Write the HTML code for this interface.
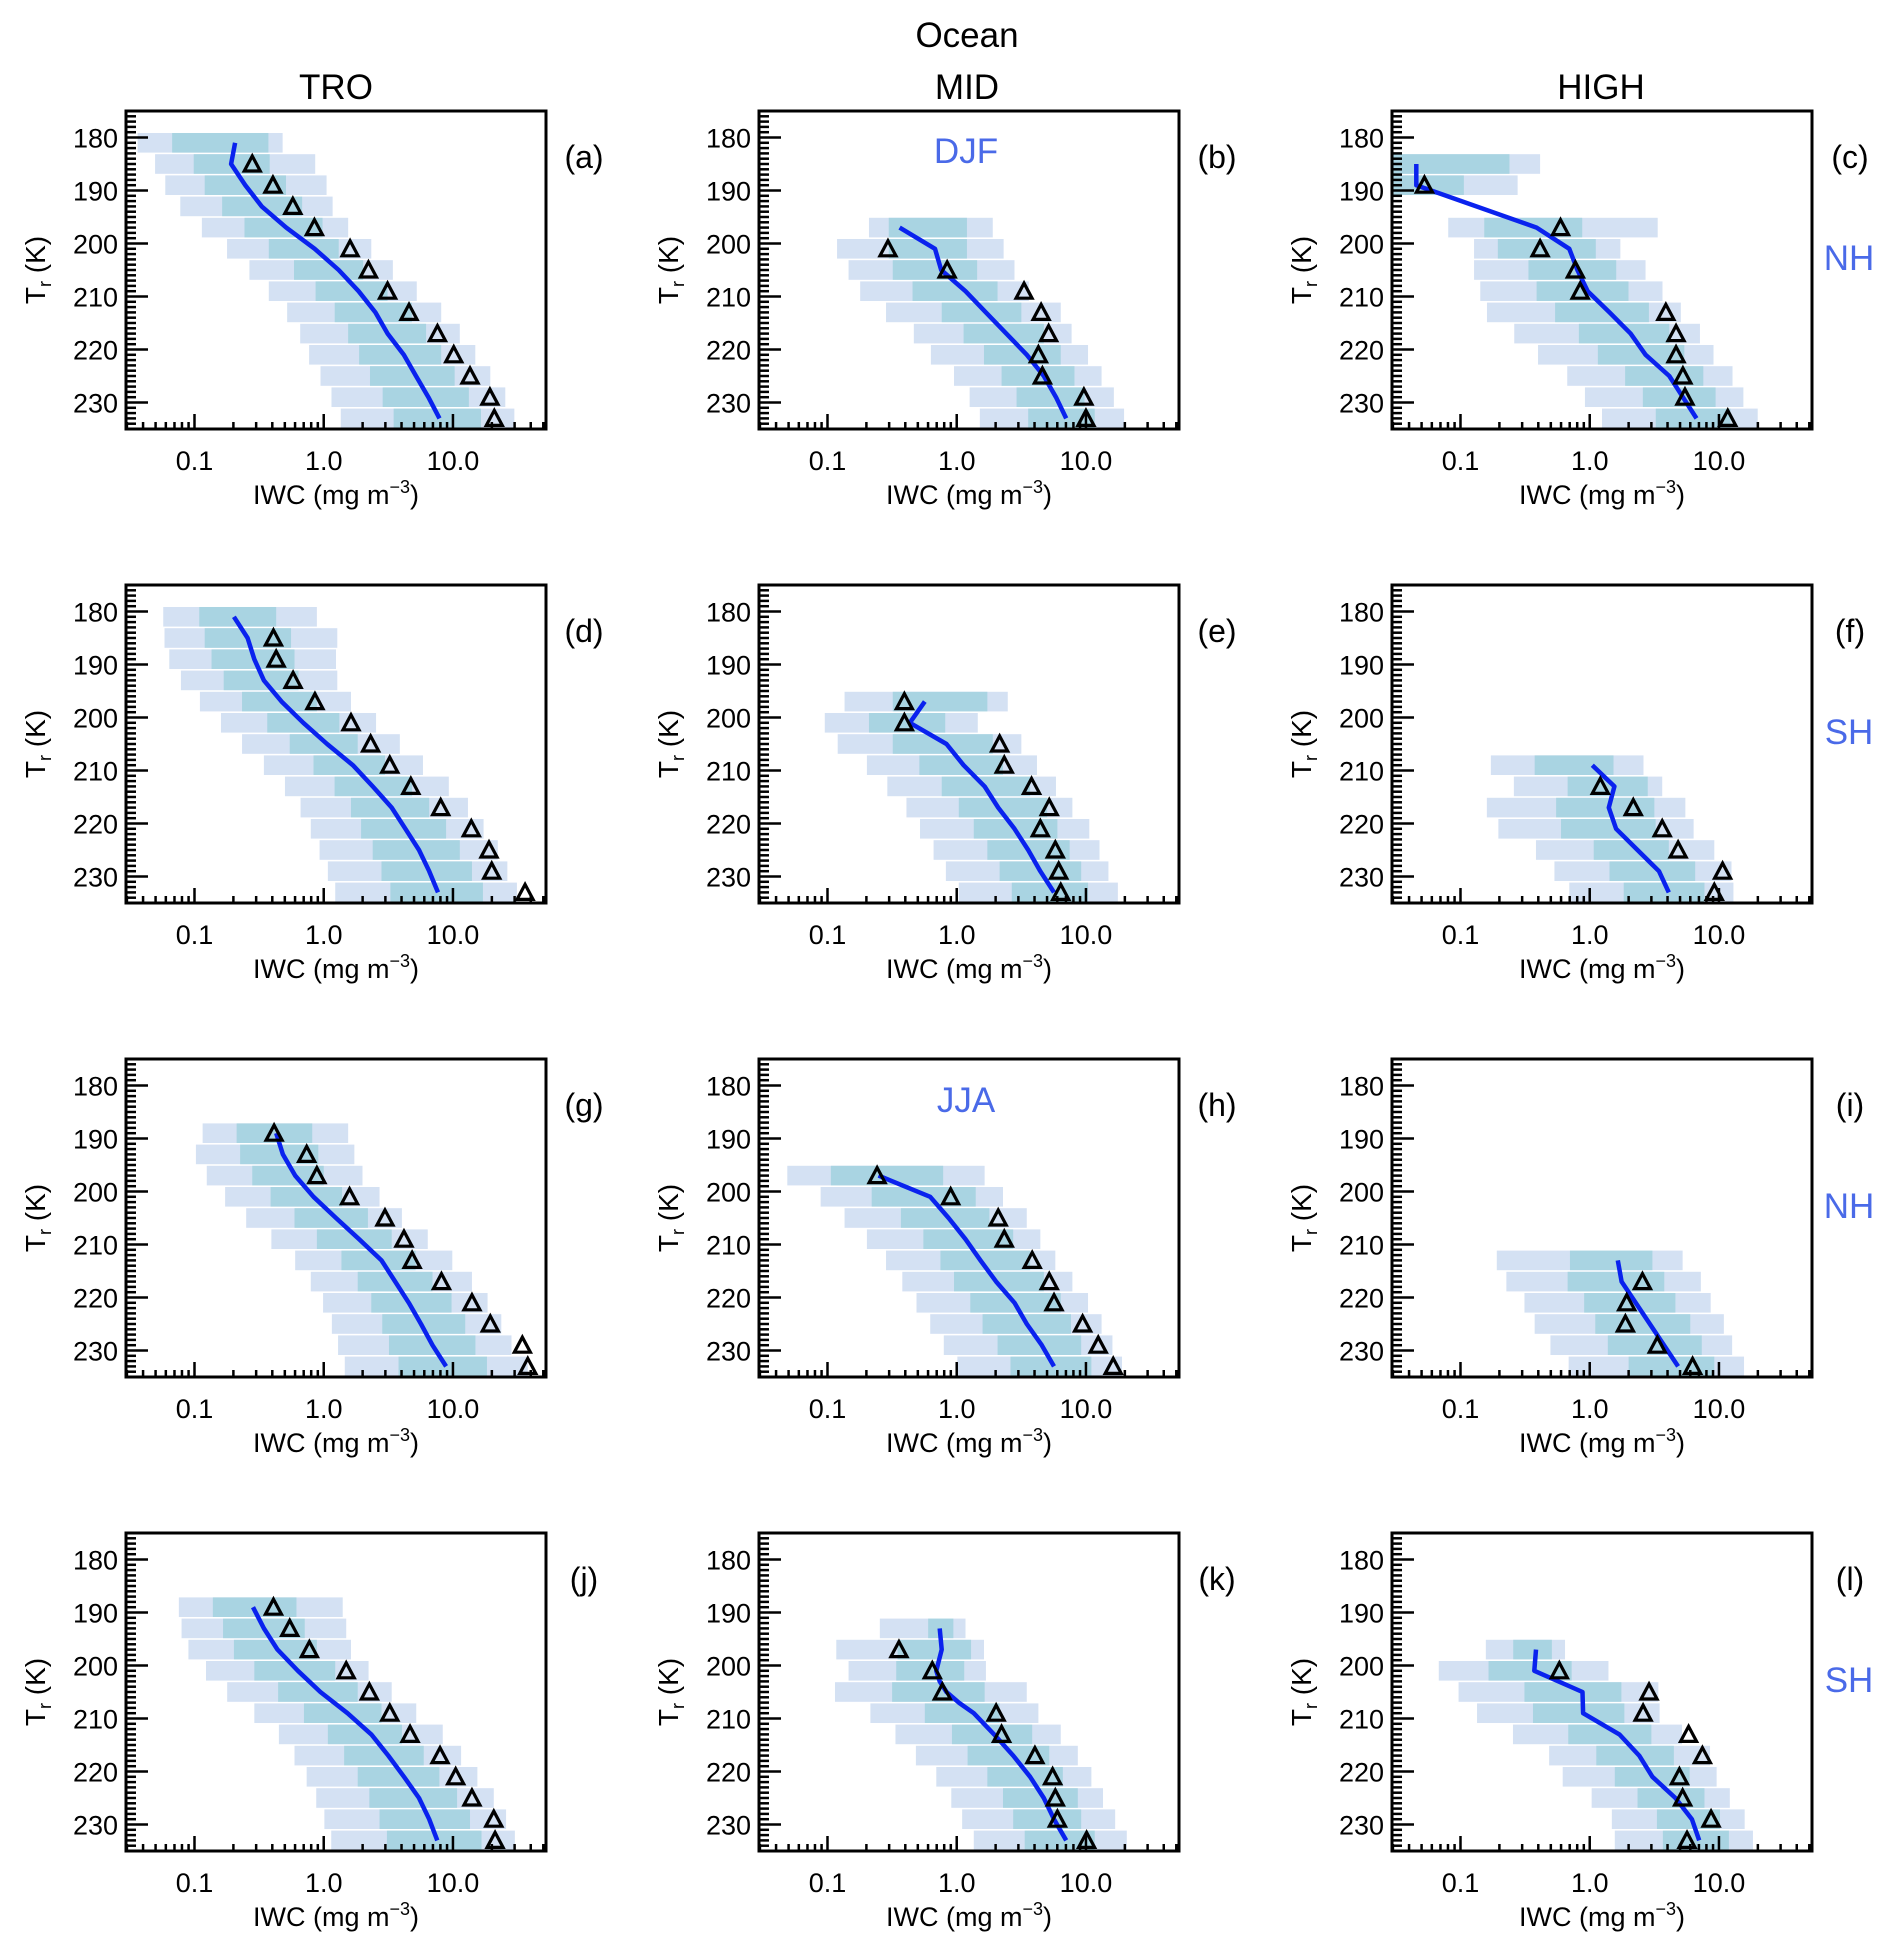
<!DOCTYPE html>
<html><head><meta charset="utf-8"><title>Ocean IWC profiles</title>
<style>
html,body{margin:0;padding:0;background:#fff;}
svg{display:block;font-family:"Liberation Sans",sans-serif;}
</style></head>
<body>
<svg id="fig" xmlns="http://www.w3.org/2000/svg" width="1892" height="1952" viewBox="0 0 1892 1952">
<rect x="0" y="0" width="1892" height="1952" fill="#fff"/>
<text x="967" y="47" font-size="35" text-anchor="middle" fill="#000">Ocean</text>
<text x="336" y="99" font-size="35" text-anchor="middle" fill="#000">TRO</text>
<text x="967" y="99" font-size="35" text-anchor="middle" fill="#000">MID</text>
<text x="1601" y="99" font-size="35" text-anchor="middle" fill="#000">HIGH</text>
<text x="966" y="163" font-size="35" text-anchor="middle" fill="#4a6ae8">DJF</text>
<text x="966" y="1112" font-size="35" text-anchor="middle" fill="#4a6ae8">JJA</text>
<text x="1849" y="270" font-size="35" text-anchor="middle" fill="#4a6ae8">NH</text>
<text x="1849" y="744" font-size="35" text-anchor="middle" fill="#4a6ae8">SH</text>
<text x="1849" y="1218" font-size="35" text-anchor="middle" fill="#4a6ae8">NH</text>
<text x="1849" y="1692" font-size="35" text-anchor="middle" fill="#4a6ae8">SH</text>
</svg>
<script>
// ---- data (IWC values stored as log10(mg m^-3)) ----
const panelLetters = ["a","b","c","d","e","f","g","h","i","j","k","l"];
const binTemps = [
 [181,185,189,193,197,201,205,209,213,217,221,225,229,233],
 [197,201,205,209,213,217,221,225,229,233],
 [185,189,197,201,205,209,213,217,221,225,229,233],
 [181,185,189,193,197,201,205,209,213,217,221,225,229,233],
 [197,201,205,209,213,217,221,225,229,233],
 [209,213,217,221,225,229,233],
 [189,193,197,201,205,209,213,217,221,225,229,233],
 [197,201,205,209,213,217,221,225,229,233],
 [213,217,221,225,229,233],
 [189,193,197,201,205,209,213,217,221,225,229,233],
 [193,197,201,205,209,213,217,221,225,229,233],
 [197,201,205,209,213,217,221,225,229,233]
];
const logP5 = [
 [-1.44,-1.305,-1.226,-1.11,-0.943,-0.748,-0.575,-0.425,-0.283,-0.182,-0.113,-0.025,0.06,0.132],
 [-0.679,-0.926,-0.837,-0.747,-0.547,-0.332,-0.2,-0.021,0.1,0.179],
 [-1.6,-1.6,-1.095,-0.895,-0.895,-0.847,-0.795,-0.584,-0.4,-0.174,-0.037,0.095],
 [-1.242,-1.232,-1.195,-1.105,-0.958,-0.795,-0.632,-0.463,-0.3,-0.179,-0.1,-0.032,0.032,0.089],
 [-0.868,-1.021,-0.921,-0.695,-0.537,-0.389,-0.284,-0.179,-0.084,0.016],
 [-0.765,-0.587,-0.796,-0.707,-0.416,-0.273,-0.158],
 [-0.937,-0.989,-0.905,-0.763,-0.6,-0.405,-0.221,-0.1,-0.005,0.063,0.111,0.163],
 [-1.311,-1.053,-0.868,-0.695,-0.547,-0.421,-0.311,-0.205,-0.1,0.005],
 [-0.719,-0.645,-0.505,-0.426,-0.304,-0.163],
 [-1.121,-1.1,-1.047,-0.911,-0.747,-0.537,-0.347,-0.226,-0.132,-0.058,0.005,0.058],
 [-0.595,-0.932,-0.837,-0.942,-0.668,-0.474,-0.316,-0.158,-0.042,0.042,0.132],
 [-0.804,-1.168,-1.015,-0.872,-0.594,-0.314,-0.209,0.015,0.171,0.194]
];
const logP25 = [
 [-1.173,-1.006,-0.921,-0.786,-0.613,-0.425,-0.23,-0.063,0.085,0.189,0.274,0.358,0.456,0.541],
 [-0.526,-0.526,-0.495,-0.342,-0.116,0.053,0.211,0.347,0.463,0.553],
 [-1.6,-1.6,-0.816,-0.711,-0.474,-0.411,-0.268,-0.084,0.063,0.274,0.411,0.511],
 [-0.963,-0.921,-0.868,-0.774,-0.632,-0.437,-0.263,-0.079,0.084,0.211,0.289,0.379,0.447,0.516],
 [-0.495,-0.679,-0.495,-0.289,-0.116,0.016,0.132,0.237,0.332,0.426],
 [-0.426,-0.171,-0.26,-0.222,0.031,0.153,0.263],
 [-0.674,-0.647,-0.553,-0.411,-0.226,-0.053,0.137,0.263,0.368,0.453,0.505,0.579],
 [-0.974,-0.658,-0.432,-0.258,-0.126,-0.021,0.105,0.2,0.316,0.416],
 [-0.153,-0.171,-0.043,0.043,0.14,0.301],
 [-0.858,-0.779,-0.695,-0.537,-0.353,-0.153,0.032,0.158,0.263,0.353,0.432,0.489],
 [-0.221,-0.458,-0.468,-0.5,-0.247,-0.037,0.084,0.237,0.358,0.437,0.526],
 [-0.592,-0.783,-0.505,-0.439,-0.166,0.051,0.194,0.37,0.52,0.566]
];
const logP75 = [
 [-0.428,-0.418,-0.292,-0.167,-0.009,0.116,0.305,0.494,0.682,0.792,0.909,1.013,1.123,1.217],
 [0.079,0.079,0.158,0.316,0.5,0.674,0.805,0.911,0.989,1.068],
 [-0.621,-0.974,-0.058,0.047,0.205,0.3,0.458,0.616,0.732,0.879,0.974,1.089],
 [-0.368,-0.253,-0.226,-0.195,-0.053,0.121,0.263,0.474,0.684,0.816,0.947,1.053,1.147,1.232],
 [0.237,-0.089,0.279,0.358,0.568,0.7,0.779,0.874,0.963,1.016],
 [0.184,0.449,0.5,0.51,0.612,0.816,0.888],
 [-0.089,-0.042,0.0,0.142,0.342,0.526,0.711,0.842,0.989,1.095,1.174,1.263],
 [-0.105,0.147,0.253,0.437,0.568,0.674,0.805,0.884,0.963,1.042],
 [0.485,0.577,0.663,0.778,0.867,0.964],
 [-0.211,-0.147,-0.053,0.089,0.263,0.447,0.605,0.774,0.895,1.032,1.132,1.221],
 [-0.026,0.111,0.058,0.216,0.332,0.584,0.716,0.821,0.937,0.963,1.068],
 [-0.293,-0.14,0.245,0.268,0.477,0.651,0.773,0.888,1.008,1.077]
];
const logP95 = [
 [-0.318,-0.066,0.022,0.069,0.189,0.368,0.535,0.72,0.909,1.053,1.173,1.289,1.405,1.475],
 [0.279,0.363,0.447,0.558,0.805,0.889,1.016,1.121,1.216,1.295],
 [-0.384,-0.558,0.526,0.237,0.432,0.563,0.705,0.853,0.958,1.105,1.189,1.3],
 [-0.053,0.105,0.095,0.105,0.211,0.405,0.589,0.768,0.968,1.116,1.237,1.347,1.421,1.495],
 [0.395,0.163,0.5,0.621,0.768,0.895,1.026,1.105,1.174,1.247],
 [0.416,0.561,0.74,0.804,0.964,1.097,1.112],
 [0.189,0.237,0.3,0.432,0.605,0.805,0.995,1.147,1.268,1.374,1.453,1.579],
 [0.216,0.358,0.542,0.647,0.763,0.895,1.016,1.121,1.205,1.279],
 [0.719,0.86,0.936,1.038,1.102,1.194],
 [0.147,0.174,0.211,0.347,0.526,0.716,0.921,1.063,1.189,1.316,1.411,1.479],
 [0.068,0.211,0.226,0.542,0.632,0.805,0.937,1.042,1.132,1.226,1.316],
 [-0.191,0.145,0.531,0.541,0.714,0.931,0.982,1.084,1.199,1.263]
];
const logTriangle = [
 [null,-0.553,-0.393,-0.239,-0.072,0.204,0.346,0.494,0.66,0.88,1.006,1.132,1.286,1.32],
 [null,-0.532,-0.074,0.521,0.653,0.711,0.632,0.663,0.984,1.0],
 [null,-1.279,-0.226,-0.384,-0.111,-0.074,0.589,0.668,0.668,0.721,0.737,1.068],
 [null,-0.389,-0.368,-0.237,-0.068,0.211,0.363,0.511,0.674,0.905,1.142,1.279,1.3,1.558],
 [-0.405,-0.405,0.332,0.368,0.579,0.716,0.647,0.763,0.789,0.805],
 [null,0.082,0.337,0.561,0.684,1.028,0.964],
 [-0.384,-0.132,-0.053,0.2,0.474,0.621,0.684,0.911,1.147,1.289,1.537,1.579],
 [-0.616,-0.047,0.321,0.368,0.584,0.716,0.753,0.974,1.095,1.211],
 [null,0.408,0.286,0.276,0.523,0.796],
 [-0.389,-0.263,-0.111,0.174,0.353,0.511,0.668,0.9,1.021,1.147,1.316,1.326],
 [null,-0.447,-0.189,-0.111,0.305,0.347,0.605,0.742,0.763,0.779,1.005],
 [null,-0.235,0.459,0.413,0.765,0.872,0.694,0.719,0.939,0.753]
];
const lineTemps = [
 [181,185,189,193,197,201,205,209,213,217,221,225,229,233],
 [197,201,205,209,213,217,221,225,229,233],
 [185,189,197,201,205,209,213,217,221,225,229,233],
 [181,185,189,193,197,201,205,209,213,217,221,225,229,233],
 [197,201,205,209,213,217,221,225,229,233],
 [209,213,217,221,225,229,233],
 [189,193,197,201,205,209,213,217,221,225,229,233],
 [197,201,205,209,213,217,221,225,229,233],
 [213,217,233],
 [189,193,197,201,205,209,213,217,221,225,229,233],
 [193,197,201,203,205,207,209,213,217,221,225,229,233],
 [197,201,205,209,213,217,221,225,229,233]
];
const lineLogValues = [
 [-0.686,-0.717,-0.607,-0.48,-0.29,-0.07,0.116,0.27,0.40,0.494,0.62,0.714,0.81,0.896],
 [-0.442,-0.168,-0.12,0.068,0.226,0.384,0.542,0.674,0.768,0.847],
 [-1.342,-1.342,-0.411,-0.158,-0.095,-0.016,0.153,0.316,0.432,0.616,0.721,0.826],
 [-0.695,-0.589,-0.537,-0.463,-0.326,-0.158,0.026,0.226,0.379,0.526,0.632,0.737,0.816,0.884],
 [-0.247,-0.363,-0.079,0.053,0.216,0.321,0.447,0.553,0.647,0.753],
 [0.02,0.191,0.148,0.204,0.37,0.536,0.612],
 [-0.368,-0.316,-0.221,-0.079,0.095,0.274,0.447,0.553,0.658,0.753,0.842,0.947],
 [-0.605,-0.205,-0.063,0.068,0.184,0.305,0.447,0.542,0.658,0.753],
 [0.217,0.247,0.684],
 [-0.547,-0.463,-0.358,-0.2,-0.026,0.184,0.368,0.5,0.621,0.737,0.816,0.879],
 [-0.132,-0.116,-0.158,-0.132,-0.079,0.016,0.132,0.289,0.437,0.568,0.674,0.753,0.847],
 [-0.416,-0.429,-0.056,-0.051,0.23,0.383,0.485,0.663,0.791,0.847]
];
const yTickLabels = [180,190,200,210,220,230];
const xTickLabels = ["0.1","1.0","10.0"];
const xTickValues = [0.1,1,10];

// ---- layout ----
const NS = "http://www.w3.org/2000/svg";
const svg = document.getElementById("fig");
const colLeft = [126,759,1392];
const rowTop = [111,585,1059,1533];
const PW = 420, PH = 318;
const LOGMIN = -1.53, LOGMAX = 1.72, TMIN = 175, TMAX = 235;

function mk(tag, attrs, parent){
  const e = document.createElementNS(NS, tag);
  for (const k in attrs) e.setAttribute(k, attrs[k]);
  (parent||svg).appendChild(e);
  return e;
}

panelLetters.forEach((letter, p) => {
  const r = Math.floor(p/3), c = p%3;
  const L = colLeft[c], T = rowTop[r];
  const xs = lv => L + (lv - LOGMIN) / (LOGMAX - LOGMIN) * PW;
  const ys = t => T + (t - TMIN) / (TMAX - TMIN) * PH;

  const g = mk("g", {});
  
  

  const cp = mk("clipPath", {id: "clip" + letter}, g);
  mk("rect", {x: L, y: T, width: PW, height: PH}, cp);
  const plot = mk("g", {"clip-path": "url(#clip" + letter + ")"}, g);

  binTemps[p].forEach((t, i) => {
    const y0 = ys(t - 1.85), h = ys(t + 1.85) - y0;
    const outer = mk("rect", {x: xs(logP5[p][i]), y: y0, width: xs(logP95[p][i]) - xs(logP5[p][i]), height: h, fill: "#d4e1f3"}, plot);
    
    
    const inner = mk("rect", {x: xs(logP25[p][i]), y: y0, width: xs(logP75[p][i]) - xs(logP25[p][i]), height: h, fill: "#a9d4e2"}, plot);
    
    
  });

  const pts = lineTemps[p].map((t, i) => xs(lineLogValues[p][i]).toFixed(1) + "," + ys(t).toFixed(1)).join(" ");
  const pl = mk("polyline", {points: pts, fill: "none", stroke: "#0a22ee", "stroke-width": 4.5, "stroke-linejoin": "round"}, plot);
  
  

  binTemps[p].forEach((t, i) => {
    const v = logTriangle[p][i];
    if (v === null) return;
    const cx = xs(v), cy = ys(t);
    const tri = mk("polygon", {points: `${cx-8},${cy+7} ${cx+8},${cy+7} ${cx},${cy-8}`, fill: "none", stroke: "#000", "stroke-width": 3.2, "stroke-linejoin": "miter"}, g);
    
    
  });

  for (let t = TMIN; t <= TMAX; t++) {
    const major = (t % 10 === 0);
    const tk = mk("line", {x1: L, x2: L + (major ? 22 : 10), y1: ys(t), y2: ys(t), stroke: "#000", "stroke-width": 2.5}, g);
    
    
  }
  yTickLabels.forEach(v => {
    const tl = mk("text", {x: L - 8, y: ys(v) + 10, "font-size": 27, "text-anchor": "end", fill: "#000"}, g);
    tl.textContent = v;
    
    
  });
  const B = T + PH;
  for (let d = -2; d <= 1; d++) {
    for (let k = 1; k <= 9; k++) {
      const lv = d + Math.log10(k);
      if (lv < LOGMIN || lv > LOGMAX) continue;
      const tk = mk("line", {x1: xs(lv), x2: xs(lv), y1: B, y2: B - (k === 1 ? 15 : 7), stroke: "#000", "stroke-width": 2.5}, g);
      
      
    }
  }
  xTickValues.forEach((v, i) => {
    const tl = mk("text", {x: xs(Math.log10(v)), y: B + 41, "font-size": 27, "text-anchor": "middle", fill: "#000"}, g);
    tl.textContent = xTickLabels[i];
    
    
  });
  const fr = mk("rect", {x: L, y: T, width: PW, height: PH, fill: "none", stroke: "#000", "stroke-width": 3}, g);
  
  

  const xt = mk("text", {x: L + 210, y: B + 75, "font-size": 27, "text-anchor": "middle", fill: "#000"}, g);
  
  
  xt.innerHTML = 'IWC (mg m<tspan dy="-11" font-size="18">−3</tspan><tspan dy="11">)</tspan>';
  const yt = mk("text", {x: 0, y: 0, "font-size": 28, "text-anchor": "middle", fill: "#000", transform: `translate(${L - 81},${T + PH/2}) rotate(-90)`}, g);
  
  
  yt.innerHTML = 'T<tspan dy="6" font-size="18">r</tspan><tspan dy="-6"> (K)</tspan>';
  const pl2 = mk("text", {x: L + PW + 38, y: T + 57, "font-size": 32, "text-anchor": "middle", fill: "#000"}, g);
  pl2.textContent = "(" + letter + ")";
  
  
});
</script>
</body></html>
